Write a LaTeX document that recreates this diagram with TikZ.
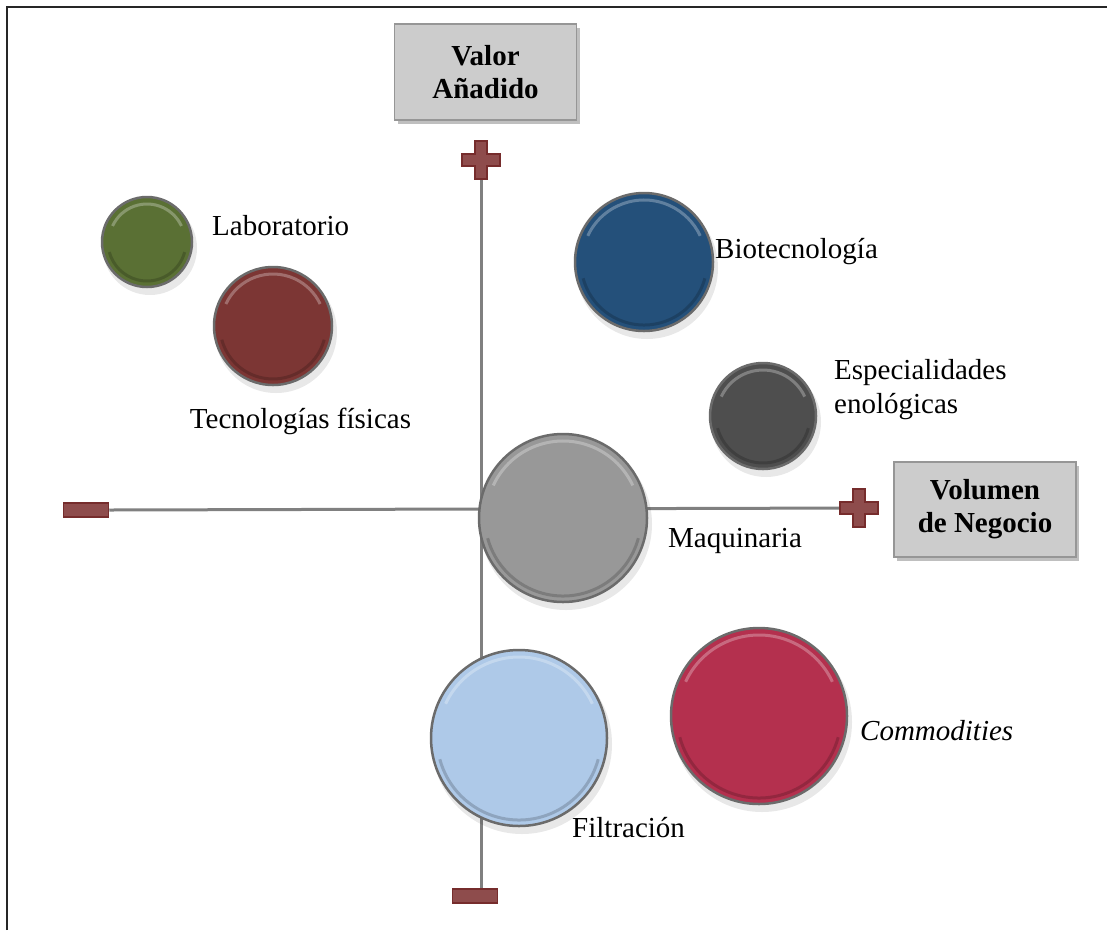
\documentclass[tikz,border=0pt]{standalone}
\usepackage{fontspec}
\setmainfont{Liberation Serif}
\usetikzlibrary{shadows}
\definecolor{axisgray}{RGB}{128,128,128}
\definecolor{markfill}{RGB}{142,76,76}
\definecolor{markdraw}{RGB}{118,44,44}
\definecolor{boxfill}{RGB}{204,204,204}
\definecolor{boxdraw}{RGB}{150,150,150}
\definecolor{cgreen}{RGB}{90,112,52}
\definecolor{cbrown}{RGB}{124,54,52}
\definecolor{cblue}{RGB}{36,80,122}
\definecolor{cdark}{RGB}{78,78,78}
\definecolor{cgray}{RGB}{152,152,152}
\definecolor{clight}{RGB}{174,201,232}
\definecolor{ccrimson}{RGB}{180,48,78}
\tikzset{
  lbl/.style={font=\fontsize{29}{34}\selectfont, inner sep=0pt},
  axisbox/.style={draw=boxdraw, line width=1.5pt, fill=boxfill, align=center,
     font=\fontsize{29}{33}\selectfont\bfseries,
     drop shadow={shadow xshift=3pt, shadow yshift=-4pt, opacity=0.25, fill=black}},
  axisline/.style={draw=axisgray, line width=3pt},
  markstyle/.style={fill=markfill, draw=markdraw, line width=1.5pt},
  bubble/.style={circle, inner sep=0pt, draw=black!58, line width=2.5pt},
}
% name, x, y, r, colour
\newcommand\mybub[5]{%
  \fill[black, opacity=.09] (#2+3,#3+6) circle (#4+2);
  \node[bubble, fill=#5, minimum size=2*#4 pt] (#1) at (#2,#3) {};
  \draw[white, opacity=.28, line width=3pt] (#2,#3) ++(205:#4-7) arc (205:335:#4-7);
  \draw[black, opacity=.18, line width=3pt] (#2,#3) ++(15:#4-6) arc (15:165:#4-6);
}
% cross marker: x, y
\newcommand\mycross[2]{%
  \path[markstyle] (#1-6,#2-19) -- (#1+6,#2-19) -- (#1+6,#2-6) -- (#1+19,#2-6)
    -- (#1+19,#2+6) -- (#1+6,#2+6) -- (#1+6,#2+19) -- (#1-6,#2+19) -- (#1-6,#2+6)
    -- (#1-19,#2+6) -- (#1-19,#2-6) -- (#1-6,#2-6) -- cycle;
}
\begin{document}
\begin{tikzpicture}[x=1pt, y=-1pt]
\useasboundingbox (0,0) rectangle (1107,930);
% frame
\draw[line width=2.5pt, black!85] (7,930) -- (7,7) -- (1107,7);

% axes end points
\coordinate (vtop) at (481,160);
\coordinate (htop) at (859,508);
\node[markstyle, minimum width=45pt, minimum height=14pt, inner sep=0pt] (vminus) at (475,896) {};
\node[markstyle, minimum width=45pt, minimum height=14pt, inner sep=0pt] (hminus) at (86,510) {};
\draw[axisline] (vtop) -- (vminus.north -| vtop);
\draw[axisline] (hminus.east) -- (htop);
\mycross{481}{160}
\mycross{859}{508}

% axis boxes
\node[axisbox, minimum width=182pt, minimum height=96pt] (valor) at (485.5,72) {Valor\\Añadido};
\node[axisbox, minimum width=182pt, minimum height=95pt] (volumen) at (985,509.5) {Volumen\\de Negocio};

% bubbles
\mybub{lab}{147}{242}{45}{cgreen}
\mybub{tec}{273}{326}{59}{cbrown}
\mybub{bio}{644}{262}{69}{cblue}
\mybub{esp}{763}{416}{53}{cdark}
\mybub{maq}{563}{518}{84}{cgray}
\mybub{fil}{519}{738}{88}{clight}
\mybub{com}{759}{716}{88}{ccrimson}

% labels
\node[lbl, anchor=base west] (tlab) at (212,235) {Laboratorio};
\node[lbl, anchor=base west] (tbio) at (715,258) {Biotecnología};
\node[lbl, anchor=base west, align=left] (tesp) at (834,413) {Especialidades\\enológicas};
\node[lbl, anchor=base] (ttec) at (300.5,428) {Tecnologías físicas};
\node[lbl, anchor=base west] (tmaq) at (668,547) {Maquinaria};
\node[lbl, anchor=base west] (tcom) at (860,740) {\itshape Commodities};
\node[lbl, anchor=base west] (tfil) at (572,837) {Filtración};
\end{tikzpicture}
\end{document}
